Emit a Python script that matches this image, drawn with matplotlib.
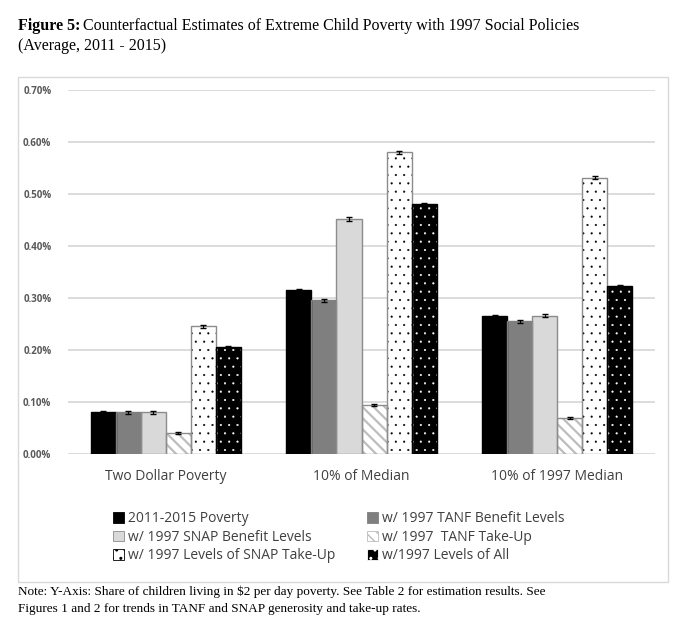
import numpy as np
import matplotlib
matplotlib.use("Agg")
import matplotlib.pyplot as plt
from matplotlib.patches import Rectangle, Patch

# ---------------- DATA ----------------
categories = ["Two Dollar Poverty", "10% of Median", "10% of 1997 Median"]
series_names = ["2011-2015 Poverty",
                "w/ 1997 TANF Benefit Levels",
                "w/ 1997 SNAP Benefit Levels",
                "w/ 1997  TANF Take-Up",
                "w/ 1997 Levels of SNAP Take-Up",
                "w/1997 Levels of All"]
# values in percent
poverty_2011 = [0.080, 0.315, 0.265]
tanf_benefit = [0.080, 0.296, 0.255]
snap_benefit = [0.080, 0.452, 0.266]
tanf_takeup = [0.041, 0.095, 0.069]
snap_takeup = [0.246, 0.580, 0.531]
all_1997 = [0.206, 0.480, 0.323]
errors = [0.002, 0.003, 0.003, 0.002, 0.003, 0.002]
yticks = [0.0, 0.1, 0.2, 0.3, 0.4, 0.5, 0.6, 0.7]

values = [poverty_2011, tanf_benefit, snap_benefit, tanf_takeup, snap_takeup, all_1997]

# ---------------- STYLES ----------------
# (face, hatch colour, hatch, outline, hatch linewidth)
styles = [("#000000", "#000000", None, "#000000", 1.0),
          ("#7f7f7f", "#7f7f7f", None, "#7f7f7f", 1.0),
          ("#d9d9d9", "#d9d9d9", None, "#8c8c8c", 1.0),
          ("#ffffff", "#bdbdbd", "\\\\\\", "#8c8c8c", 1.6),
          ("#ffffff", "#000000", "..", "#8c8c8c", 0.3),
          ("#000000", "#ffffff", "..", "#000000", 0.3)]

fig = plt.figure(figsize=(6.79, 6.3), dpi=100)
ax = fig.add_axes([68/679, 1-454/630, (655-68)/679, (454-90)/630])

x = np.arange(len(categories))
width = 0.128
n = len(values)
for i, vals in enumerate(values):
    face, hcol, hatch, edge, hlw = styles[i]
    pos = x + (i - (n-1)/2) * width
    with plt.rc_context({"hatch.linewidth": hlw}):
        ax.bar(pos, vals, width, color=face, edgecolor=hcol, hatch=hatch, linewidth=0, zorder=3)
    ax.bar(pos, vals, width, fill=False, edgecolor=edge, linewidth=1.0, zorder=4)
    ax.errorbar(pos, vals, yerr=errors[i], fmt="none", ecolor="#000000",
                elinewidth=0.8, capsize=2.5, capthick=1.0, zorder=5)

ax.set_xlim(-0.5, 2.5)
ax.set_ylim(0, 0.7)
ax.set_yticks(yticks)
ax.set_yticklabels([f"{t:.2f}%" for t in yticks], fontsize=7, fontweight="bold",
                   color="#595959", family="Open Sans")
ax.set_xticks(x)
ax.set_xticklabels(categories, fontsize=10, color="#404040", family="Open Sans")
ax.tick_params(axis="both", length=0)
ax.tick_params(axis="y", pad=12)
ax.tick_params(axis="x", pad=11)
for s in ax.spines.values():
    s.set_visible(False)
ax.yaxis.grid(True, color="#d9d9d9", linewidth=1.3, zorder=0)
ax.set_axisbelow(True)

# legend (row order as in reference)
handles = []
for i, name in enumerate(series_names):
    face, hcol, hatch, edge, hlw = styles[i]
    with plt.rc_context({"hatch.linewidth": hlw}):
        handles.append(Patch(facecolor=face, edgecolor=edge if hatch is None else hcol,
                             hatch=hatch, linewidth=0.6, label=name))
order = [0, 2, 4, 1, 3, 5]
fig.legend([handles[k] for k in order], [series_names[k] for k in order],
           ncol=2, loc="upper left", bbox_to_anchor=(100/679, 1-499/630),
           frameon=False, handlelength=0.8, handleheight=0.8, handletextpad=0.3,
           columnspacing=2.3, labelspacing=0.25,
           prop={"family": "Open Sans", "size": 10})
for t in fig.legends[0].get_texts():
    t.set_color("#404040")

# chart border
fig.patches.append(Rectangle((18/679, 1-582/630), 650/679, 505/630,
                             transform=fig.transFigure, fill=False,
                             edgecolor="#d9d9d9", linewidth=1.0))

# title
title_y = 1 - 30/630
t1 = fig.text(18/679, title_y, "Figure 5:", fontsize=11.5, fontweight="bold",
              family="Liberation Serif", va="baseline")
fig.canvas.draw()
bb = t1.get_window_extent()
fig.text(bb.x1/679 + 3/679, title_y,
         "Counterfactual Estimates of Extreme Child Poverty with 1997 Social Policies",
         fontsize=11.5, family="Liberation Serif", va="baseline")
fig.text(18/679, 1 - 50/630, "(Average, 2011 - 2015)", fontsize=11.5,
         family="Liberation Serif", va="baseline")

# note
fig.text(18/679, 1 - 595/630,
         "Note: Y-Axis: Share of children living in $2 per day poverty. See Table 2 for estimation results. See",
         fontsize=9.5, family="Liberation Serif", va="baseline")
fig.text(18/679, 1 - 612/630,
         "Figures 1 and 2 for trends in TANF and SNAP generosity and take-up rates.",
         fontsize=9.5, family="Liberation Serif", va="baseline")

fig.savefig("out.png", dpi=100)
